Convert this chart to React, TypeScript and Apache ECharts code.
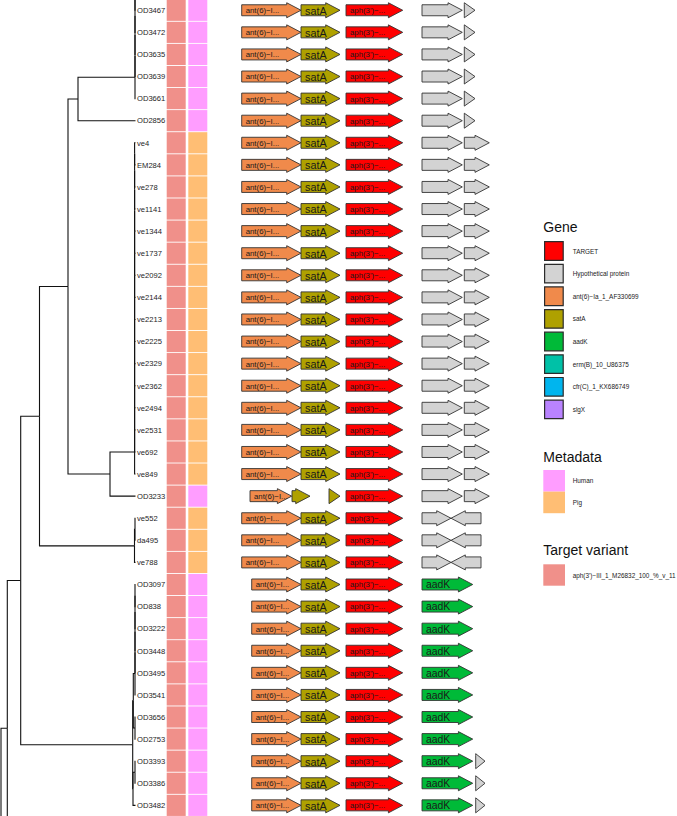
import React, { useEffect, useRef } from "react";
import * as echarts from "echarts";

const FONT = "'Liberation Sans', Arial, Helvetica, sans-serif";

// ---------- data ----------
const tipLabels = [
  "OD3467", "OD3472", "OD3635", "OD3639", "OD3661", "OD2856",
  "ve4", "EM284", "ve278", "ve1141", "ve1344", "ve1737", "ve2092", "ve2144",
  "ve2213", "ve2225", "ve2329", "ve2362", "ve2494", "ve2531", "ve692", "ve849",
  "OD3233", "ve552", "da495", "ve788",
  "OD3097", "OD838", "OD3222", "OD3448", "OD3495", "OD3541", "OD3656", "OD2753",
  "OD3393", "OD3386", "OD3482",
];

const metadataByTip = [
  "Human", "Human", "Human", "Human", "Human", "Human",
  "Pig", "Pig", "Pig", "Pig", "Pig", "Pig", "Pig", "Pig",
  "Pig", "Pig", "Pig", "Pig", "Pig", "Pig", "Pig", "Pig",
  "Human", "Pig", "Pig", "Pig",
  "Human", "Human", "Human", "Human", "Human", "Human", "Human", "Human",
  "Human", "Human", "Human",
];

const targetVariantLevels = ["aph(3')\u2212III_1_M26832_100_%_v_11"];
const targetVariantColors = ["#F0908A"];
const targetVariantByTip = tipLabels.map(() => targetVariantLevels[0]);

const metadataLevels = ["Human", "Pig"];
const metadataColors = ["#FF9DFF", "#FFBE74"];

const geneNames = [
  "TARGET",
  "Hypothetical protein",
  "ant(6)\u2212Ia_1_AF330699",
  "satA",
  "aadK",
  "erm(B)_10_U86375",
  "cfr(C)_1_KX686749",
  "slgX",
];
const geneColors = ["#FF0000", "#D3D3D3", "#F08A4B", "#AFA100", "#00BA38", "#00C1A7", "#00B5EE", "#B983FF"];

// gene segments: [gene index, start, end, label]  (start > end means reverse strand)
const operonA = [[2, 241.7, 301, "ant(6)\u2212I..."], [3, 301, 340, "satA"], [0, 346, 402.7, "aph(3')\u2212..."], [1, 422, 462.3, ""], [1, 464.3, 475, ""]];
const operonB = [[2, 241.7, 301, "ant(6)\u2212I..."], [3, 301, 340, "satA"], [0, 346, 402.7, "aph(3')\u2212..."], [1, 422, 462.3, ""], [1, 464.3, 489.3, ""]];
const operonC = [[2, 250, 291.7, "ant(6)\u2212I..."], [3, 292, 310, ""], [3, 329, 340, ""], [0, 346, 402.7, "aph(3')\u2212..."], [1, 422, 462.3, ""], [1, 464.3, 489.3, ""]];
const operonD = [[2, 241.7, 301, "ant(6)\u2212I..."], [3, 301, 340, "satA"], [0, 346, 402.7, "aph(3')\u2212..."], [1, 422, 451, ""], [1, 481, 451, ""]];
const operonE = [[2, 251.7, 301, "ant(6)\u2212I..."], [3, 301, 340, "satA"], [0, 346, 402.7, "aph(3')\u2212..."], [4, 422, 472.7, "aadK"]];
const operonF = [[2, 251.7, 301, "ant(6)\u2212I..."], [3, 301, 340, "satA"], [0, 346, 402.7, "aph(3')\u2212..."], [4, 422, 472.7, "aadK"], [1, 475.7, 485, ""]];

const operonByTip = [
  "A", "A", "A", "A", "A", "A",
  "B", "B", "B", "B", "B", "B", "B", "B", "B", "B", "B", "B", "B", "B", "B", "B",
  "C", "D", "D", "D",
  "E", "E", "E", "E", "E", "E", "E", "E",
  "F", "F", "F",
];
const operons: Record<string, any[]> = { A: operonA, B: operonB, C: operonC, D: operonD, E: operonE, F: operonF };

// tree: number = visible tip index, {off: row} = branch continuing outside the view,
// {d: depth, c: children} = internal node
type TNode = number | { off: number } | { d: number; c: TNode[] };
const ladder = (d: number, kids: TNode[]): TNode =>
  kids.slice(2).reduce<TNode>((acc, k) => ({ d, c: [acc, k] }), { d, c: [kids[0], kids[1]] });

const TIP_DEPTH = 135.5;
const tree: TNode = {
  d: 1, c: [
    {
      d: 7.3, c: [
        {
          d: 20.7, c: [
            {
              d: 39.5, c: [
                {
                  d: 68, c: [
                    { d: 78, c: [ladder(135, [{ off: -1 }, 0, 1, 2, 3, 4]), 5] },
                    { d: 110, c: [ladder(134.6, [6, 7, 8, 9, 10, 11, 12, 13, 14, 15, 16, 17, 18, 19, 20, 21]), 22] },
                  ],
                },
                { d: 134.5, c: [{ d: 135, c: [23, 24] }, 25] },
              ],
            },
            {
              d: 132.7, c: [
                { d: 133.3, c: [ladder(135, [26, 27, 28, 29, 30, 31]), { d: 135, c: [32, 33] }] },
                { d: 133, c: [{ d: 135, c: [34, 35] }, 36] },
              ],
            },
          ],
        },
        { off: 39.2 },
      ],
    },
    { off: 46 },
  ],
};

// ---------- layout helpers ----------
const Y_MIN = -0.4646;
const Y_MAX = 36.482;
const TILE_X = [176.2, 197.8];
const TILE_W = 19;
const BODY_H = 5.5;
const HEAD_H = 7.5;
const HEAD_LEN = 14.3;

function layoutTree(n: TNode, segs: number[][]): { row: number; depth: number } {
  if (typeof n === "number") return { row: n, depth: TIP_DEPTH };
  if ("off" in n) return { row: n.off, depth: TIP_DEPTH };
  const kids = n.c.map((k) => layoutTree(k, segs));
  const row = (kids[0].row + kids[kids.length - 1].row) / 2;
  kids.forEach((k) => segs.push([n.d, row, k.row, k.depth]));
  return { row, depth: n.d };
}

export default function App() {
  const ref = useRef<HTMLDivElement>(null);

  useEffect(() => {
    const chart = echarts.init(ref.current!, null, { renderer: "svg" });

    const segs: number[][] = [];
    layoutTree(tree, segs);

    const tiles: { col: number; row: number; color: string }[] = [];
    tipLabels.forEach((_, r) => {
      tiles.push({ col: 0, row: r, color: targetVariantColors[targetVariantLevels.indexOf(targetVariantByTip[r])] });
      tiles.push({ col: 1, row: r, color: metadataColors[metadataLevels.indexOf(metadataByTip[r])] });
    });

    const genes: { g: number; s: number; e: number; label: string; row: number }[] = [];
    operonByTip.forEach((k, r) => {
      operons[k].forEach((seg) => genes.push({ g: seg[0], s: seg[1], e: seg[2], label: seg[3], row: r }));
    });

    const textStyle = (text: string, size: number, fill = "#1a1a1a") => ({
      text, fontSize: size, fontFamily: FONT, fill,
      align: "left", verticalAlign: "middle", textAlign: "left", textVerticalAlign: "middle",
    });

    const treeSeries = {
      type: "custom",
      clip: true,
      data: segs,
      encode: { x: [0, 3], y: [1, 2] },
      renderItem: (_p: any, api: any) => {
        const p1 = api.coord([api.value(0), api.value(1)]);
        const p2 = api.coord([api.value(0), api.value(2)]);
        const p3 = api.coord([api.value(3), api.value(2)]);
        return {
          type: "polyline",
          shape: { points: [p1, p2, p3] },
          style: { stroke: "#111", lineWidth: 1.1, fill: null, lineJoin: "miter" },
        };
      },
      z: 2,
    };

    const tipSeries = {
      type: "custom",
      clip: true,
      data: tipLabels.map((_, i) => [TIP_DEPTH, i]),
      encode: { x: 0, y: 1 },
      renderItem: (p: any, api: any) => {
        const pt = api.coord([api.value(0), api.value(1)]);
        return { type: "text", x: pt[0] + 1.5, y: pt[1] + 0.3, style: textStyle(tipLabels[p.dataIndex], 7.6, "#1e1e1e") };
      },
      z: 3,
    };

    const tileSeries = {
      type: "custom",
      clip: true,
      data: tiles.map((t) => [TILE_X[t.col], t.row]),
      encode: { x: 0, y: 1 },
      renderItem: (p: any, api: any) => {
        const t = tiles[p.dataIndex];
        const c = api.coord([TILE_X[t.col], t.row]);
        const h = api.size([0, 1])[1];
        return {
          type: "rect",
          shape: { x: c[0] - TILE_W / 2, y: c[1] - h / 2 + 0.45, width: TILE_W, height: h - 0.9 },
          style: { fill: t.color },
        };
      },
      z: 1,
    };

    const geneSeries = {
      type: "custom",
      clip: true,
      data: genes.map((g) => [g.s, g.row, g.e]),
      encode: { x: [0, 2], y: 1 },
      renderItem: (p: any, api: any) => {
        const g = genes[p.dataIndex];
        const a = api.coord([g.s, g.row]);
        const b = api.coord([g.e, g.row]);
        const y = a[1];
        const x0 = a[0];
        const x1 = b[0];
        const dir = x1 >= x0 ? 1 : -1;
        const hl = Math.min(HEAD_LEN, Math.abs(x1 - x0));
        const xb = x1 - dir * hl;
        const pts = [
          [x0, y - BODY_H], [xb, y - BODY_H], [xb, y - HEAD_H], [x1, y],
          [xb, y + HEAD_H], [xb, y + BODY_H], [x0, y + BODY_H],
        ];
        const children: any[] = [
          { type: "polygon", shape: { points: pts }, style: { fill: geneColors[g.g], stroke: "#333", lineWidth: 0.9, lineJoin: "miter" } },
        ];
        if (g.label) {
          const big = g.g === 3 || g.g === 4;
          children.push({
            type: "text",
            x: x0 + 4,
            y: y + 0.4,
            style: textStyle(g.label, big ? (g.g === 3 ? 10.8 : 10.4) : 7.8, "#1a1a1a"),
          });
        }
        return { type: "group", children };
      },
      z: 2,
    };

    // ---------- legend ----------
    const LX = 543.3;
    const LABEL_X = 572.7;
    const graphic: any[] = [];
    const title = (text: string, y: number) =>
      graphic.push({ type: "text", x: LX, y, style: textStyle(text, 14, "#111") });
    const label = (text: string, y: number) =>
      graphic.push({ type: "text", x: LABEL_X, y, style: textStyle(text, 6.4, "#1a1a1a") });

    title("Gene", 227);
    geneNames.forEach((n, i) => {
      const cy = 251 + i * 22.63;
      graphic.push({
        type: "rect",
        shape: { x: 544.6, y: cy - 9.3, width: 18.6, height: 18.6 },
        style: { fill: geneColors[i], stroke: "#2b2b2b", lineWidth: 1.2 },
      });
      label(n, cy);
    });

    title("Metadata", 457);
    metadataLevels.forEach((n, i) => {
      const top = 470 + i * 21.6;
      graphic.push({ type: "rect", shape: { x: LX, y: top, width: 21.7, height: 21.6 }, style: { fill: metadataColors[i] } });
      label(n, top + 10.8);
    });

    title("Target variant", 550);
    targetVariantLevels.forEach((n, i) => {
      const top = 564.3 + i * 21.6;
      graphic.push({ type: "rect", shape: { x: LX, y: top, width: 21.7, height: 21.4 }, style: { fill: targetVariantColors[i] } });
      label(n, top + 10.8);
    });

    chart.setOption({
      animation: false,
      backgroundColor: "#ffffff",
      grid: { left: 0, right: 0, top: 0, bottom: 0, containLabel: false },
      xAxis: { type: "value", min: 0, max: 677, show: false },
      yAxis: { type: "value", min: Y_MIN, max: Y_MAX, inverse: true, show: false },
      series: [tileSeries, treeSeries, tipSeries, geneSeries],
      graphic,
    });

    return () => chart.dispose();
  }, []);

  return (
    <div
      ref={ref}
      style={{ position: "absolute", left: 0, top: 0, width: 677, height: 816, background: "#fff" }}
    />
  );
}
